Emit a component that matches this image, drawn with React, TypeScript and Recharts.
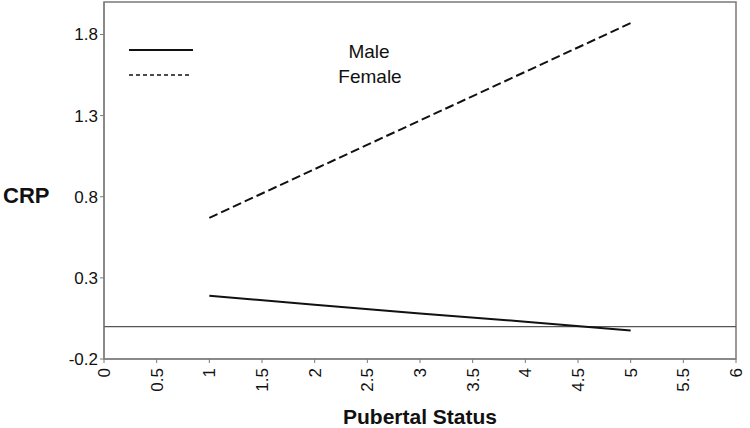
import {
  LineChart,
  Line,
  XAxis,
  YAxis,
  ReferenceLine,
  ReferenceArea,
} from "recharts";

const pubertalStatus = [1, 2, 3, 4, 5];
const maleCrp = [0.19, 0.135, 0.08, 0.03, -0.025];
const femaleCrp = [0.67, 0.97, 1.27, 1.57, 1.87];
const xTicks = [0, 0.5, 1, 1.5, 2, 2.5, 3, 3.5, 4, 4.5, 5, 5.5, 6];
const yTicks = [-0.2, 0.3, 0.8, 1.3, 1.8];

const data = pubertalStatus.map((x, i) => ({
  x,
  male: maleCrp[i],
  female: femaleCrp[i],
}));

const FONT = "'Liberation Sans', Arial, sans-serif";
const FRAME = "#7a7a7a";
const INK = "#111";

function RotatedTick({ x, y, payload }: { x?: number; y?: number; payload?: { value: number } }) {
  const ty = (y ?? 0) + 3;
  return (
    <text
      x={x}
      y={ty}
      dy="0.36em"
      transform={`rotate(-90 ${x} ${ty})`}
      textAnchor="end"
      fontSize={17}
      fontFamily={FONT}
      fill={INK}
    >
      {String(payload?.value)}
    </text>
  );
}

// legend drawn on top of the plot, like the original figure
function LegendBox() {
  return (
    <svg
      width={320}
      height={50}
      style={{ position: "absolute", left: 104, top: 38 }}
    >
      <line x1={25} y1={12} x2={89} y2={12} stroke={INK} strokeWidth={2} />
      <line x1={25} y1={37} x2={86} y2={37} stroke={INK} strokeWidth={1.5} strokeDasharray="4 3" />
      <text x={265} y={13} dy="0.35em" textAnchor="middle" fontSize={19} fontFamily={FONT} fill={INK}>
        Male
      </text>
      <text x={266} y={38} dy="0.35em" textAnchor="middle" fontSize={19} fontFamily={FONT} fill={INK}>
        Female
      </text>
    </svg>
  );
}

export default function App() {
  return (
    <div style={{ position: "fixed", left: 0, top: 0, width: 750, height: 428, background: "#fff" }}>
      <LineChart
        width={750}
        height={428}
        data={data}
        margin={{ top: 2, right: 14, left: 60, bottom: 0 }}
      >
        <XAxis
          dataKey="x"
          type="number"
          domain={[0, 6]}
          ticks={xTicks}
          interval={0}
          height={69}
          stroke={FRAME}
          tickSize={4}
          tick={<RotatedTick />}
          label={{
            value: "Pubertal Status",
            position: "insideBottom",
            offset: 4,
            fontSize: 21,
            fontWeight: "bold",
            fontFamily: FONT,
            fill: INK,
          }}
        />
        <YAxis
          type="number"
          domain={[-0.2, 2.0]}
          ticks={yTicks}
          width={44}
          stroke={FRAME}
          tickSize={4}
          tickMargin={2}
          tickFormatter={(v: number) => String(v)}
          tick={{ fontSize: 17, fontFamily: FONT, fill: INK }}
        />
        <ReferenceArea
          x1={0}
          x2={6}
          y1={-0.2}
          y2={2.0}
          fill="none"
          stroke={FRAME}
          strokeWidth={1.5}
        />
        <ReferenceLine y={0} stroke="#555" strokeWidth={1.2} />
        <Line
          dataKey="male"
          name="Male"
          stroke={INK}
          strokeWidth={2}
          dot={false}
          isAnimationActive={false}
        />
        <Line
          dataKey="female"
          name="Female"
          stroke={INK}
          strokeWidth={2}
          strokeDasharray="9 4"
          dot={false}
          isAnimationActive={false}
        />
      </LineChart>
      <LegendBox />
      <div
        style={{
          position: "absolute",
          left: 3,
          top: 183,
          fontFamily: FONT,
          fontWeight: "bold",
          fontSize: 22,
          color: INK,
        }}
      >
        CRP
      </div>
    </div>
  );
}
